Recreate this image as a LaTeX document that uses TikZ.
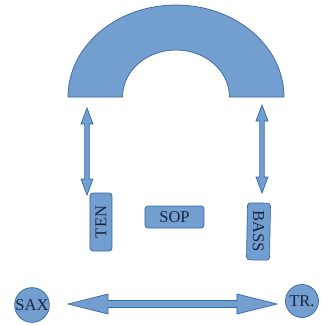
\documentclass[tikz,border=0pt]{standalone}
\usepackage{fontspec}
\setmainfont{Liberation Serif}
\usetikzlibrary{calc}

\definecolor{blockfill}{HTML}{729FCF}
\definecolor{blockline}{HTML}{3465A4}
\definecolor{voicetext}{HTML}{1A2440}

% fat two-headed arrow from #1 to #2: shaft half width, head half width, head length
\newcommand{\fatarrow}[5]{%
  \filldraw [block] (#1)
    -- ($(#1)!#5!(#2)!#4!90:(#2)$) -- ($(#1)!#5!(#2)!#3!90:(#2)$)
    -- ($(#2)!#5!(#1)!#3!-90:(#1)$) -- ($(#2)!#5!(#1)!#4!-90:(#1)$)
    -- (#2)
    -- ($(#2)!#5!(#1)!#4!90:(#1)$) -- ($(#2)!#5!(#1)!#3!90:(#1)$)
    -- ($(#1)!#5!(#2)!#3!-90:(#2)$) -- ($(#1)!#5!(#2)!#4!-90:(#2)$)
    -- cycle;}

\begin{document}
\begin{tikzpicture}[x=1pt, y=-1pt,
    block/.style={fill=blockfill, draw=blockline, line width=0.7pt},
    voice/.style={block, rounded corners=3pt, inner sep=0pt, text=voicetext,
        font=\fontsize{16.5}{18}\selectfont},
    solo/.style={block, circle, inner sep=0pt, text=voicetext,
        font=\fontsize{16.5}{18}\selectfont}]
    \useasboundingbox (0,0) rectangle (321,325);

    % the arch
    \filldraw [block] (68,97) arc (180:0:108pt and 92pt) -- (229.5,97)
        arc (0:180:53.5pt and 47pt) -- cycle;

    \node [voice, rotate=90, minimum width=58, minimum height=22] (ten) at (101,222) {TEN};
    \node [voice, minimum width=59, minimum height=22] (sop) at (174.5,217) {SOP};
    \node [voice, rotate=-91, minimum width=57, minimum height=23] (bass) at (258.5,231.5) {BASS};

    \node [solo, minimum size=31] (sax) at (32,305) {SAX};
    \node [solo, minimum size=33] (tr) at (302,301) {TR.};

    \coordinate (tenTop) at (87,108);
    \coordinate (tenBot) at (87,195);
    \coordinate (bassTop) at (262,105);
    \coordinate (bassBot) at (262,193);
    \coordinate (saxEnd) at (68,304);
    \coordinate (trEnd) at (277,304);

    \fatarrow{tenTop}{tenBot}{2.2pt}{6pt}{16pt}
    \fatarrow{bassTop}{bassBot}{2.2pt}{6pt}{16pt}
    \fatarrow{saxEnd}{trEnd}{3.5pt}{10pt}{40pt}
\end{tikzpicture}
\end{document}
